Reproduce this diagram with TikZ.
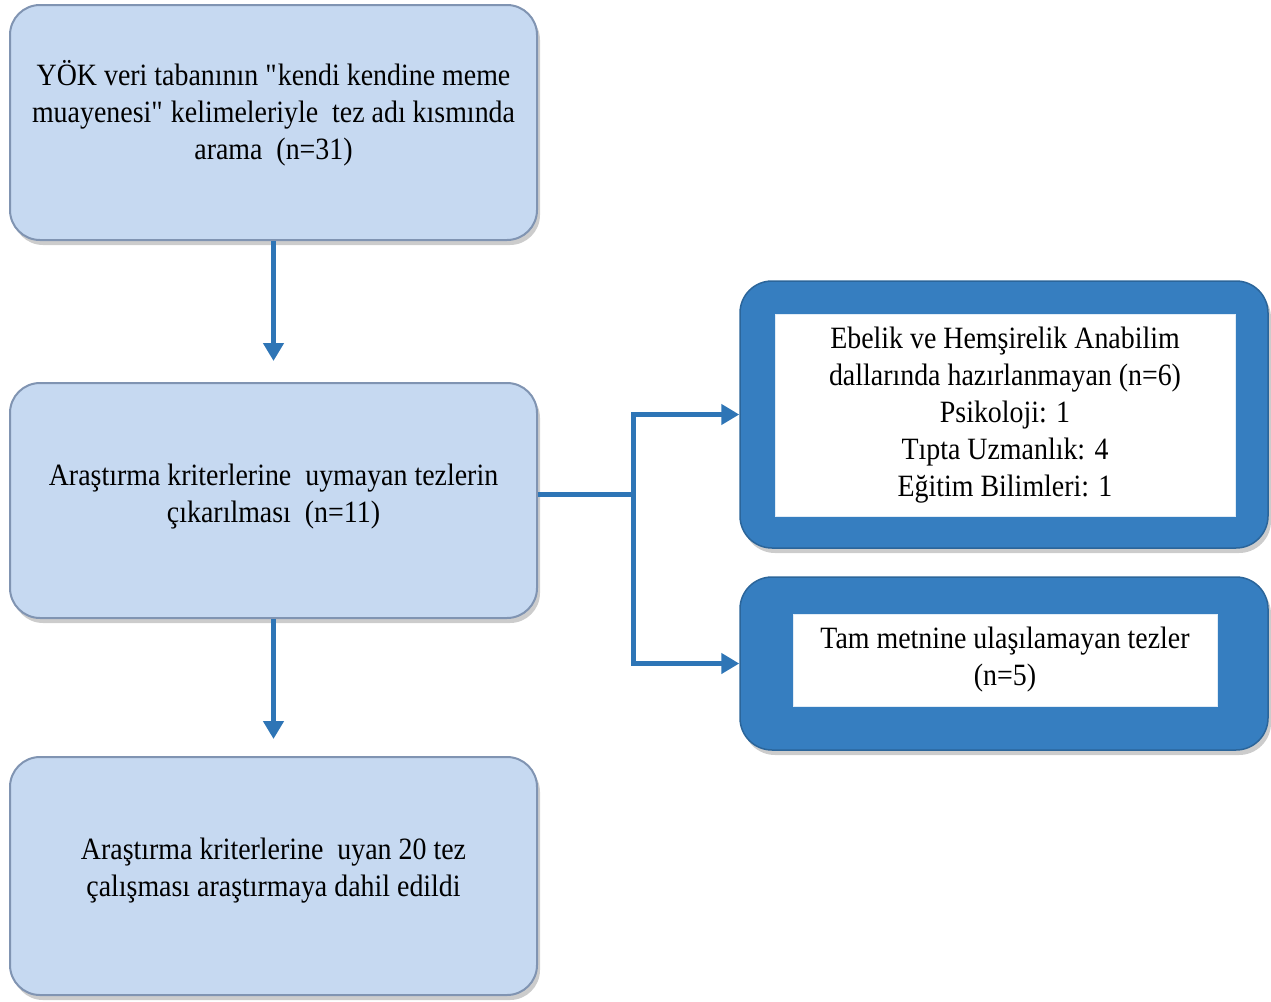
\documentclass[tikz,border=0pt]{standalone}
\usepackage{fontspec}
\setmainfont[FakeStretch=0.9]{Liberation Serif}
\usetikzlibrary{arrows.meta,shadows}

\definecolor{lightbox}{RGB}{198,217,241}
\definecolor{lightedge}{RGB}{128,148,178}
\definecolor{darkbox}{RGB}{54,126,192}
\definecolor{arrowblue}{RGB}{46,117,182}

\begin{document}
\begin{tikzpicture}[x=1pt,y=-1pt,
	font=\fontsize{31}{37}\selectfont,
	stagebox/.style={draw=lightedge, line width=2pt, fill=lightbox, rounded corners=30pt,
		minimum width=527pt,
		drop shadow={shadow xshift=3pt, shadow yshift=-5pt, opacity=0.4}},
	stagetext/.style={align=center, inner sep=0pt},
	outbox/.style={draw=darkbox!80!black, line width=1.5pt, fill=darkbox, rounded corners=32pt,
		minimum width=528pt,
		drop shadow={shadow xshift=3pt, shadow yshift=-5pt, opacity=0.4}},
	outtext/.style={draw=white!85!darkbox, fill=white, align=center, inner sep=0pt},
	flow/.style={arrowblue, line width=5pt, -{Triangle[width=20pt,length=18pt]}}
	]
	\useasboundingbox (0,0) rectangle (1271,1001);

	\node[stagebox, minimum height=235pt] (search) at (273.5,122.5) {};
	\node[stagetext] (searchtxt) at (273.5,113) {YÖK veri tabanının \textquotedbl kendi kendine meme\\muayenesi\textquotedbl{} kelimeleriyle\ \ tez adı kısmında\\arama\ \ (n=31)};

	\node[stagebox, minimum height=235pt] (exclude) at (273.5,500.5) {};
	\node[stagetext] (excludetxt) at (273.5,497) {Araştırma kriterlerine\ \ uymayan tezlerin\\çıkarılması\ \ (n=11)};

	\node[stagebox, minimum height=238pt] (final) at (273.5,876) {};
	\node[stagetext] (finaltxt) at (273.5,871) {Araştırma kriterlerine\ \ uyan 20 tez\\çalışması\ araştırmaya dahil edildi};

	\node[outbox, minimum height=267pt] (field) at (1004,414.5) {};
	\node[outtext, minimum width=460pt, minimum height=202pt] (fieldtxt) at (1005,415)
		{Ebelik ve Hemşirelik Anabilim\\dallarında hazırlanmayan (n=6)\\Psikoloji: 1\\Tıpta Uzmanlık: 4\\Eğitim Bilimleri: 1};

	\node[outbox, minimum height=173pt] (fulltext) at (1004,663.5) {};
	\node[outtext, minimum width=424pt, minimum height=92pt] (fulltexttxt) at (1005,660)
		{Tam metnine ulaşılamayan tezler\\(n=5)};

	\draw[flow, shorten >=21pt] (search) -- (exclude);
	\draw[flow, shorten >=17pt] (exclude) -- (final);
	\draw[flow] ([yshift=6pt]exclude.east) -- ++(95,0) |- (field.west);
	\draw[flow] ([yshift=6pt]exclude.east) -- ++(95,0) |- (fulltext.west);
\end{tikzpicture}
\end{document}
